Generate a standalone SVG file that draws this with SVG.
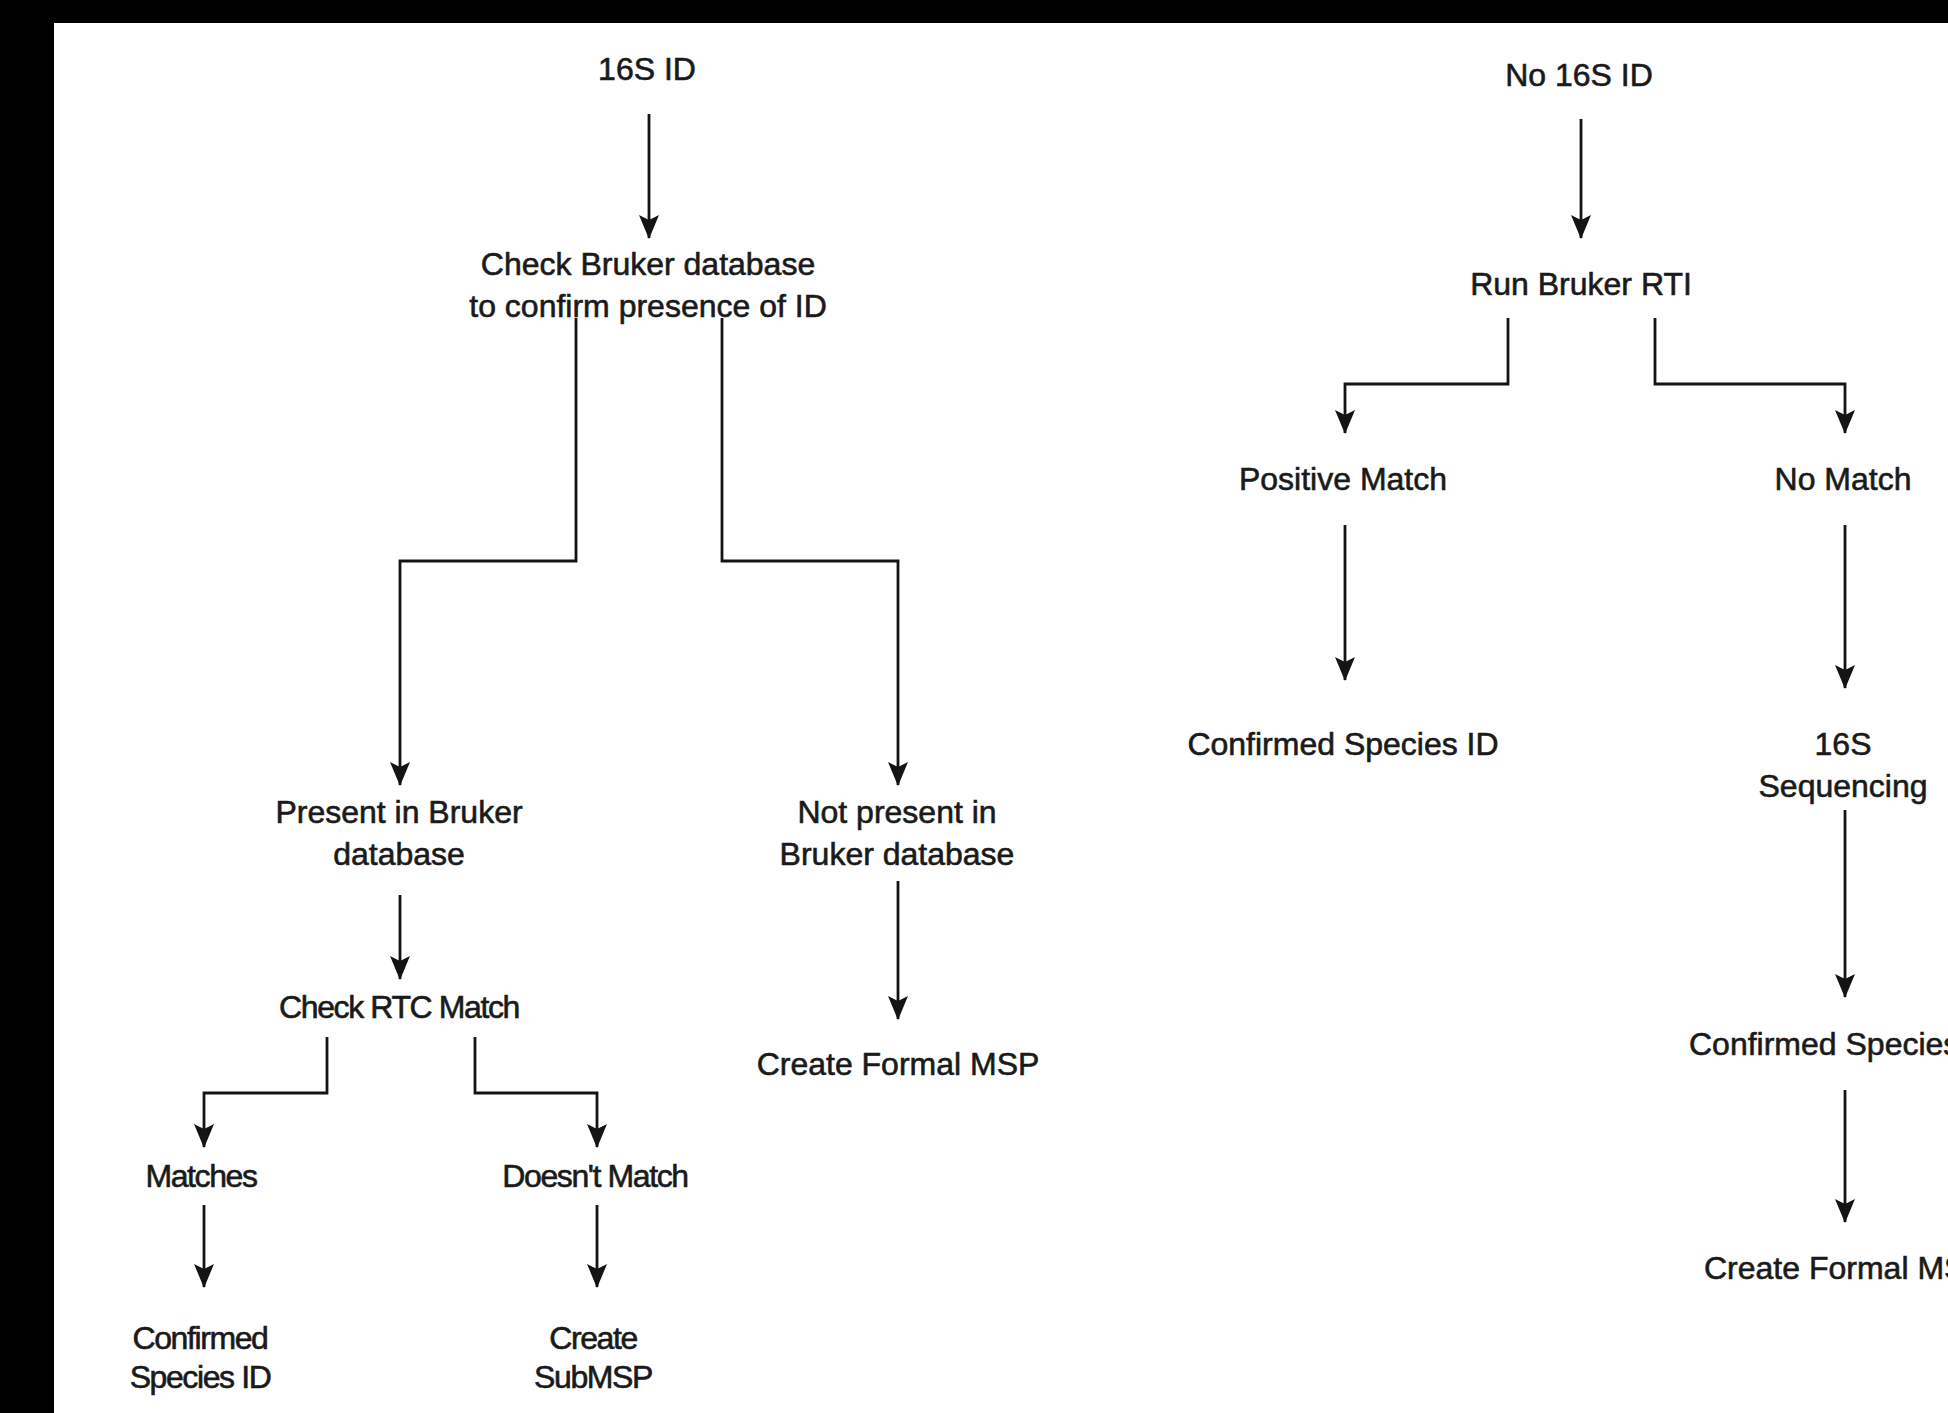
<svg xmlns="http://www.w3.org/2000/svg" width="1948" height="1413" viewBox="0 0 1948 1413">
<style>
  text { font-family: "Liberation Sans", Arial, Helvetica, sans-serif; font-size: 32px; fill: #1a1a1a; stroke: #1a1a1a; stroke-width: 0.6px; text-anchor: middle; }
  text.tight { letter-spacing: -1.4px; }
  text.start { text-anchor: start; }
  .edge { fill: none; stroke: #141414; stroke-width: 2.8; stroke-linejoin: miter; marker-end: url(#arrow); }
</style>
<defs>
  <marker id="arrow" viewBox="0 0 24 20" markerWidth="24" markerHeight="20" refX="23" refY="10" orient="auto" markerUnits="userSpaceOnUse">
    <path d="M0,0 L24,10 L0,20 L5,10 Z" fill="#141414"/>
  </marker>
</defs>
<rect x="0" y="0" width="1948" height="1413" fill="#ffffff"/>
<rect x="0" y="0" width="1948" height="23" fill="#000000"/>
<rect x="0" y="0" width="54" height="1413" fill="#000000"/>

<g id="connectors">
  <path class="edge" d="M649,114 L649,238"/>
  <path class="edge" d="M576,318 L576,561 L400,561 L400,785"/>
  <path class="edge" d="M722,318 L722,561 L898,561 L898,785"/>
  <path class="edge" d="M400,895 L400,979"/>
  <path class="edge" d="M898,881 L898,1019"/>
  <path class="edge" d="M327,1037 L327,1093 L204,1093 L204,1147"/>
  <path class="edge" d="M475,1037 L475,1093 L597,1093 L597,1147"/>
  <path class="edge" d="M204,1205 L204,1287"/>
  <path class="edge" d="M597,1205 L597,1287"/>
  <path class="edge" d="M1581,119 L1581,238"/>
  <path class="edge" d="M1508,318 L1508,384 L1345,384 L1345,433"/>
  <path class="edge" d="M1655,318 L1655,384 L1845,384 L1845,433"/>
  <path class="edge" d="M1345,525 L1345,680"/>
  <path class="edge" d="M1845,525 L1845,688"/>
  <path class="edge" d="M1845,810 L1845,997"/>
  <path class="edge" d="M1845,1090 L1845,1222"/>
</g>

<g id="n-16s-id"><text x="647" y="80">16S ID</text></g>
<g id="n-check-bruker"><text x="648" y="275">Check Bruker database</text><text x="648" y="317">to confirm presence of ID</text></g>
<g id="n-present"><text x="399" y="823">Present in Bruker</text><text x="399" y="865">database</text></g>
<g id="n-not-present"><text x="897" y="823">Not present in</text><text x="897" y="865">Bruker database</text></g>
<g id="n-create-formal-left"><text x="898" y="1075">Create Formal MSP</text></g>
<g id="n-check-rtc"><text class="tight" x="399" y="1018">Check RTC Match</text></g>
<g id="n-matches"><text class="tight" x="201" y="1187">Matches</text></g>
<g id="n-doesnt-match"><text class="tight" x="595" y="1187">Doesn't Match</text></g>
<g id="n-confirmed-left"><text class="tight" x="200" y="1349">Confirmed</text><text class="tight" x="200" y="1388">Species ID</text></g>
<g id="n-create-submsp"><text class="tight" x="593" y="1349">Create</text><text class="tight" x="593" y="1388">SubMSP</text></g>

<g id="n-no-16s-id"><text x="1579" y="86">No 16S ID</text></g>
<g id="n-run-bruker"><text x="1581" y="295">Run Bruker RTI</text></g>
<g id="n-positive-match"><text x="1343" y="490">Positive Match</text></g>
<g id="n-no-match"><text x="1843" y="490">No Match</text></g>
<g id="n-confirmed-right"><text x="1343" y="755">Confirmed Species ID</text></g>
<g id="n-16s-seq"><text x="1843" y="755">16S</text><text x="1843" y="797">Sequencing</text></g>
<g id="n-confirmed-cut"><text class="start" x="1689" y="1055">Confirmed Species</text></g>
<g id="n-create-formal-cut"><text class="start" x="1704" y="1279">Create Formal MS</text></g>
</svg>
